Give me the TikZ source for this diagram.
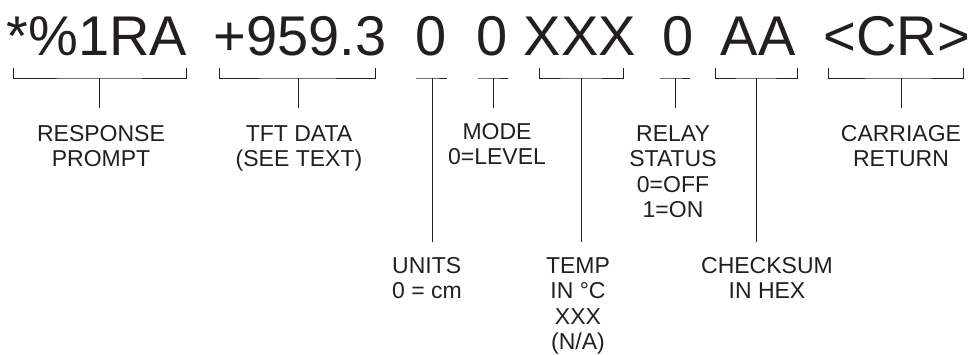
\documentclass[tikz,border=0pt]{standalone}
\usepackage{fontspec}
\setmainfont{Liberation Sans}
\definecolor{ink}{HTML}{231F20}
\begin{document}
\begin{tikzpicture}[x=1pt,y=-1pt,
  big/.style={inner sep=0pt,anchor=base,text=ink,font=\fontsize{56}{60}\selectfont},
  lbl/.style={inner sep=0pt,anchor=base,text=ink,align=center,font=\fontsize{23}{25.5}\selectfont},
  ln/.style={draw=ink,line width=0.9pt}]
\useasboundingbox (0,0) rectangle (970,354);
% top text
\node[big] (t1) at (97,55) {*\%1RA};
\node[big] (t2) at (300,55) {+959.3};
\node[big] (t3) at (431,55) {0};
\node[big] (t4) at (492,55) {0};
\node[big] (t5) at (580,55) {XXX};
\node[big] (t6) at (678,55) {0};
\node[big] (t7) at (758,55) {AA};
\node[big] (t8) at (897,55) {<CR>};
% labels (anchor = baseline of last line)
\node[lbl] (l1) at (101,166.5) {RESPONSE\\PROMPT};
\node[lbl] (l2) at (299,166.5) {TFT DATA\\(SEE TEXT)};
\node[lbl] (l4) at (497,164.5) {MODE\\0=LEVEL};
\node[lbl] (l6) at (673,217.5) {RELAY\\STATUS\\0=OFF\\1=ON};
\node[lbl] (l8) at (901,166.5) {CARRIAGE\\RETURN};
\node[lbl,align=left,anchor=base west] (l3) at (392,298.5) {UNITS\\0 = cm};
\node[lbl] (l5) at (578,349.5) {TEMP\\IN °C\\XXX\\ (N/A)};
\node[lbl] (l7) at (767,298.5) {CHECKSUM\\IN HEX};
% brackets
\coordinate (m1) at (99,78); \coordinate (e1) at (99,108);
\coordinate (m2) at (298,78); \coordinate (e2) at (298,108);
\coordinate (m3) at (432,78); \coordinate (e3) at (432,242);
\coordinate (m4) at (493,78); \coordinate (e4) at (493,108);
\coordinate (m5) at (581,78); \coordinate (e5) at (581,242);
\coordinate (m6) at (675,78); \coordinate (e6) at (675,108);
\coordinate (m7) at (756,78); \coordinate (e7) at (756,242);
\coordinate (m8) at (901,78); \coordinate (e8) at (901,108);
\draw[ln] (13,68) |- (m1) -| (186,68);
\draw[ln] (219,68) |- (m2) -| (375,68);
\draw[ln] (416,78) -- (m3) -- (447,78);
\draw[ln] (478,78) -- (m4) -- (508,78);
\draw[ln] (539,68) |- (m5) -| (623,68);
\draw[ln] (660,78) -- (m6) -- (690,78);
\draw[ln] (715,68) |- (m7) -| (797,68);
\draw[ln] (828,68) |- (m8) -| (963,68);
% stems
\foreach \i in {1,...,8} {\draw[ln] (m\i) -- (e\i);}
\end{tikzpicture}
\end{document}
